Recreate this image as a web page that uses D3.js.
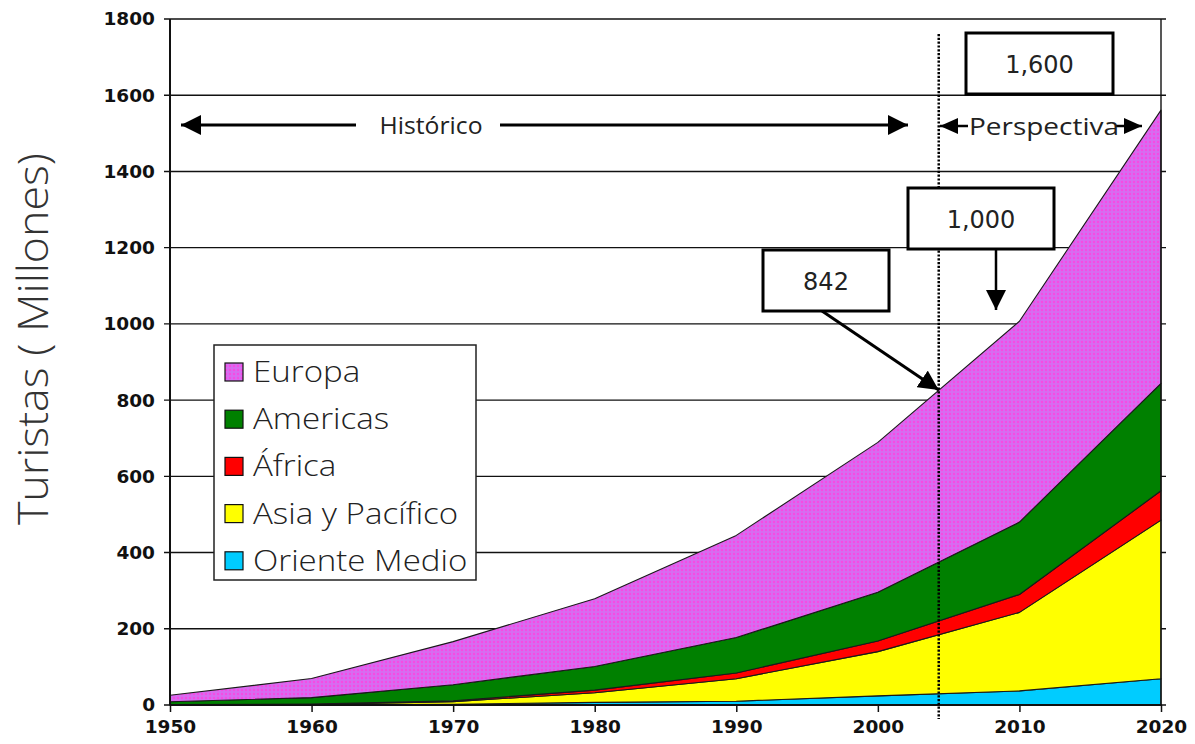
<!DOCTYPE html>
<html>
<head>
<meta charset="utf-8">
<script src="https://cdn.jsdelivr.net/npm/d3@7"></script>
<style>
  html, body { margin: 0; padding: 0; background: #fff; }
  svg { display: block; }
</style>
</head>
<body>
<svg id="chart" width="1195" height="744"></svg>
<script>
// ---- data (millions of tourist arrivals) ----
const years = [1950, 1960, 1970, 1980, 1990, 2000, 2010, 2020];
const orienteMedio = [0.2, 0.6, 1.9, 7, 10, 24, 37, 69];
const asiaPacifico = [0.2, 1, 7, 25, 59, 116, 206, 416];
const africa = [0.5, 0.8, 2.4, 7, 15, 28, 47, 77];
const americas = [7.5, 17, 42, 62, 93, 128, 190, 282];
const europa = [17, 50, 113, 178, 268, 393, 527, 717];

const seriesKeys = ["orienteMedio", "asiaPacifico", "africa", "americas", "europa"];
const yTicks = [0, 200, 400, 600, 800, 1000, 1200, 1400, 1600, 1800];
const xTicks = [1950, 1960, 1970, 1980, 1990, 2000, 2010, 2020];
const legendOrder = ["Europa", "Americas", "África", "Asia y Pacífico", "Oriente Medio"];
const callouts = [
  { label: "842", year: 2004.3, value: 842 },
  { label: "1,000", year: 2008.8, value: 1000 },
  { label: "1,600" }
];
const periodLabels = ["Histórico", "Perspectiva"];
const dividerYear = 2004.3;

const table = years.map((yr, i) => ({
  year: yr,
  orienteMedio: orienteMedio[i],
  asiaPacifico: asiaPacifico[i],
  africa: africa[i],
  americas: americas[i],
  europa: europa[i]
}));

// ---- layout ----
const svg = d3.select("#chart");
const L = 170, R = 1161, T = 19, B = 705;
const x = d3.scaleLinear().domain([1950, 2020]).range([L, R]);
const y = d3.scaleLinear().domain([0, 1800]).range([B, T]);

const colors = {
  orienteMedio: "#00ccff",
  asiaPacifico: "#ffff00",
  africa: "#ff0000",
  americas: "#008000",
  europa: "url(#dots)"
};

const defs = svg.append("defs");
const pat = defs.append("pattern").attr("id", "dots")
  .attr("patternUnits", "userSpaceOnUse").attr("width", 4).attr("height", 4);
pat.append("rect").attr("width", 4).attr("height", 4).attr("fill", "#d76cf0");
pat.append("circle").attr("cx", 2).attr("cy", 2).attr("r", 1.2).attr("fill", "#f74ae4");

function arrowMarker(id, w, h) {
  defs.append("marker").attr("id", id)
    .attr("viewBox", `0 0 ${w} ${h}`)
    .attr("refX", w).attr("refY", h / 2)
    .attr("markerUnits", "userSpaceOnUse")
    .attr("markerWidth", w).attr("markerHeight", h)
    .attr("orient", "auto")
    .append("path").attr("d", `M0,0 L${w},${h / 2} L0,${h} Z`).attr("fill", "#000");
}
arrowMarker("ahead", 20, 20);
arrowMarker("ahead2", 18, 16);

// ---- gridlines ----
svg.append("g").selectAll("line").data(yTicks).join("line")
  .attr("x1", L - 6).attr("x2", R + 5)
  .attr("y1", d => y(d)).attr("y2", d => y(d))
  .attr("stroke", "#111").attr("stroke-width", 1.4);

// ---- stacked areas ----
const stack = d3.stack().keys(seriesKeys).order(d3.stackOrderNone).offset(d3.stackOffsetNone);
const stacked = stack(table);
const area = d3.area()
  .x(d => x(d.data.year))
  .y0(d => y(d[0]))
  .y1(d => y(d[1]));
svg.append("g").selectAll("path").data(stacked).join("path")
  .attr("d", area)
  .attr("fill", d => colors[d.key])
  .attr("stroke", "#1a1a1a")
  .attr("stroke-width", 1.1)
  .attr("stroke-linejoin", "round");

// ---- axes ----
svg.append("line").attr("x1", L).attr("x2", L).attr("y1", T).attr("y2", B)
  .attr("stroke", "#111").attr("stroke-width", 2);
svg.append("line").attr("x1", R).attr("x2", R).attr("y1", T).attr("y2", B)
  .attr("stroke", "#111").attr("stroke-width", 1.4);
svg.append("line").attr("x1", L).attr("x2", R + 1).attr("y1", B).attr("y2", B)
  .attr("stroke", "#111").attr("stroke-width", 2);

const yAxis = d3.axisLeft(y).tickValues(yTicks).tickSize(0).tickPadding(15).tickFormat(d3.format("d"));
const gy = svg.append("g").attr("transform", `translate(${L},0)`).call(yAxis);
gy.select(".domain").remove();
gy.selectAll("text").attr("font-family", "DejaVu Sans, Verdana, sans-serif")
  .attr("font-weight", "bold").attr("font-size", 18.5).attr("fill", "#111");

const xAxis = d3.axisBottom(x).tickValues(xTicks).tickSize(7).tickPadding(8).tickFormat(d3.format("d"));
const gx = svg.append("g").attr("transform", `translate(0,${B})`).call(xAxis);
gx.select(".domain").remove();
gx.selectAll("line").attr("stroke", "#111").attr("stroke-width", 1.5);
gx.selectAll("text").attr("font-family", "DejaVu Sans, Verdana, sans-serif")
  .attr("font-weight", "bold").attr("font-size", 18.5).attr("fill", "#111");

// y title
svg.append("text")
  .attr("transform", `translate(48,339) rotate(-90)`)
  .attr("text-anchor", "middle")
  .attr("font-family", "Open Sans, Lato, DejaVu Sans, sans-serif")
  .attr("font-weight", 300)
  .attr("font-size", 43)
  .attr("textLength", 372).attr("lengthAdjust", "spacingAndGlyphs")
  .attr("fill", "#333")
  .text("Turistas ( Millones)");

// ---- divider ----
svg.append("line")
  .attr("x1", x(dividerYear)).attr("x2", x(dividerYear))
  .attr("y1", 34).attr("y2", 719)
  .attr("stroke", "#000").attr("stroke-width", 2.5).attr("stroke-dasharray", "2.2,1.6");

// ---- period arrows ----
const periodFont = "Open Sans, Lato, DejaVu Sans, sans-serif";
svg.append("line").attr("x1", 356).attr("x2", 181).attr("y1", 125).attr("y2", 125)
  .attr("stroke", "#000").attr("stroke-width", 3).attr("marker-end", "url(#ahead)");
svg.append("line").attr("x1", 500).attr("x2", 908).attr("y1", 125).attr("y2", 125)
  .attr("stroke", "#000").attr("stroke-width", 3).attr("marker-end", "url(#ahead)");
svg.append("rect").attr("x", 364).attr("y", 108).attr("width", 130).attr("height", 34).attr("fill", "#fff");
svg.append("text").attr("x", 431).attr("y", 134).attr("text-anchor", "middle")
  .attr("font-family", periodFont).attr("font-size", 24).attr("fill", "#222")
  .attr("textLength", 103).attr("lengthAdjust", "spacingAndGlyphs")
  .text(periodLabels[0]);

svg.append("line").attr("x1", 968).attr("x2", 940).attr("y1", 126).attr("y2", 126)
  .attr("stroke", "#000").attr("stroke-width", 2.5).attr("marker-end", "url(#ahead2)");
svg.append("line").attr("x1", 1116).attr("x2", 1142).attr("y1", 126).attr("y2", 126)
  .attr("stroke", "#000").attr("stroke-width", 2.5).attr("marker-end", "url(#ahead2)");
svg.append("text").attr("x", 1044).attr("y", 135).attr("text-anchor", "middle")
  .attr("font-family", periodFont).attr("font-size", 24).attr("fill", "#222")
  .attr("textLength", 150).attr("lengthAdjust", "spacingAndGlyphs")
  .text(periodLabels[1]);

// ---- callouts ----
const boxFont = "DejaVu Sans, Verdana, sans-serif";
const boxes = [
  { x: 763, y: 250, w: 126, h: 61 },
  { x: 908, y: 188, w: 146, h: 61 },
  { x: 966, y: 33, w: 147, h: 61 }
];
svg.append("line").attr("x1", 822).attr("y1", 311)
  .attr("x2", x(callouts[0].year)).attr("y2", y(callouts[0].value) + 6)
  .attr("stroke", "#000").attr("stroke-width", 3).attr("marker-end", "url(#ahead)");
svg.append("line").attr("x1", 996).attr("y1", 249)
  .attr("x2", 996).attr("y2", 310)
  .attr("stroke", "#000").attr("stroke-width", 2.5).attr("marker-end", "url(#ahead)");

boxes.forEach((b, i) => {
  svg.append("rect").attr("x", b.x).attr("y", b.y).attr("width", b.w).attr("height", b.h)
    .attr("fill", "#fff").attr("stroke", "#000").attr("stroke-width", 3);
  svg.append("text").attr("x", b.x + b.w / 2).attr("y", b.y + b.h / 2 + 9)
    .attr("text-anchor", "middle")
    .attr("font-family", boxFont).attr("font-size", 24).attr("fill", "#222")
    .text(callouts[i].label);
});

// ---- legend ----
const lg = svg.append("g");
lg.append("rect").attr("x", 214).attr("y", 345).attr("width", 262).attr("height", 235)
  .attr("fill", "#fff").attr("stroke", "#222").attr("stroke-width", 1.5);
const legendColor = {
  "Europa": colors.europa, "Americas": colors.americas, "África": colors.africa,
  "Asia y Pacífico": colors.asiaPacifico, "Oriente Medio": colors.orienteMedio
};
legendOrder.forEach((name, i) => {
  const cy = 372 + i * 47.2;
  lg.append("rect").attr("x", 225).attr("y", cy - 9).attr("width", 18).attr("height", 18)
    .attr("fill", legendColor[name]).attr("stroke", "#111").attr("stroke-width", 1.2);
  const t = lg.append("text").attr("x", 253).attr("y", cy + 10)
    .attr("font-family", periodFont).attr("font-weight", 300)
    .attr("font-size", 29).attr("fill", "#222")
    .text(name);
  const len = t.node().getComputedTextLength();
  t.attr("textLength", len * 1.14).attr("lengthAdjust", "spacingAndGlyphs");
});
</script>
</body>
</html>
